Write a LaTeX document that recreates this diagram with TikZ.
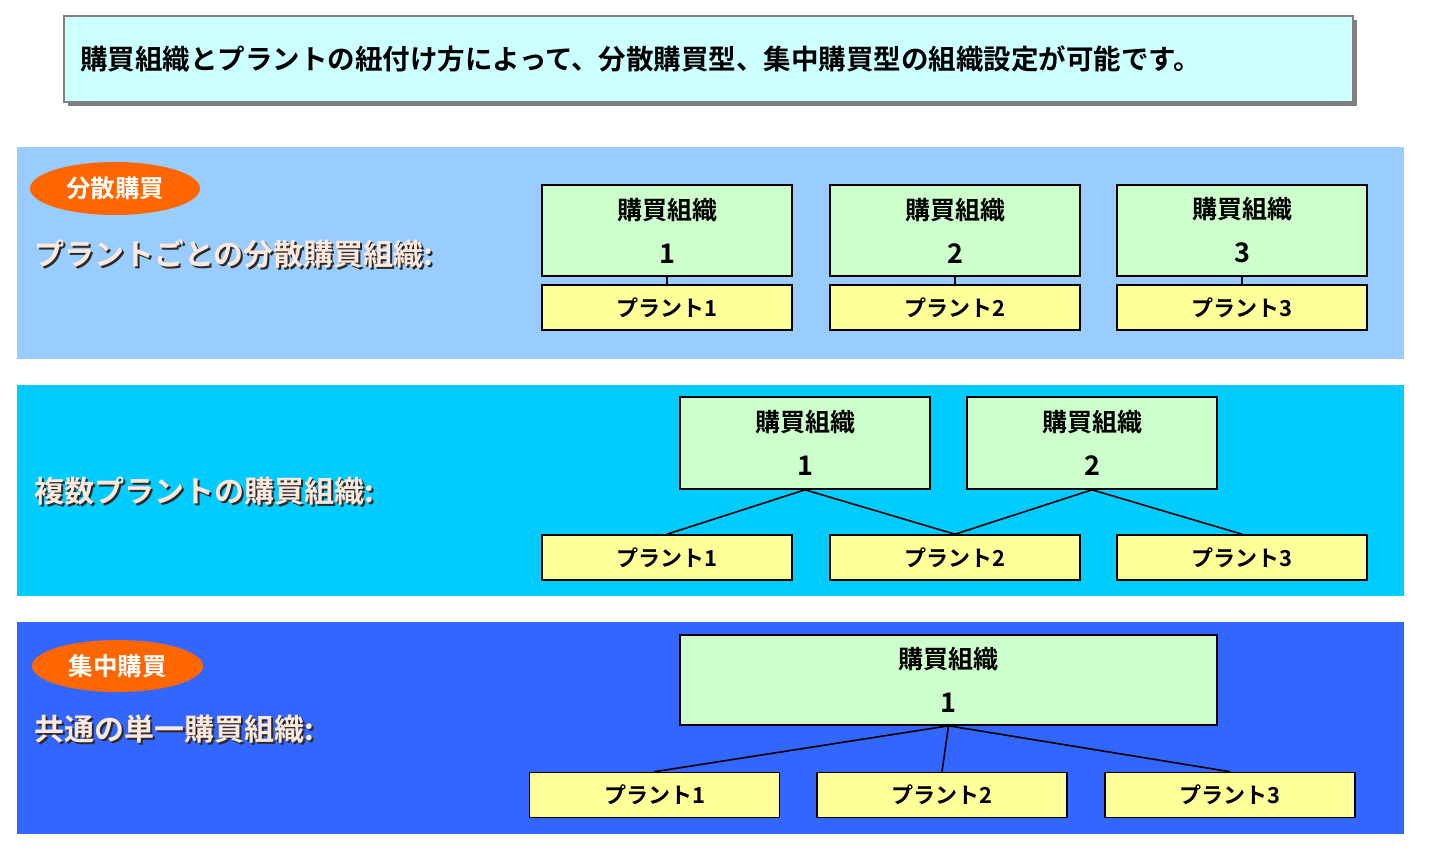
\documentclass[tikz,border=0pt]{standalone}
\usepackage{fontspec}
\setmainfont{Noto Sans CJK JP}[BoldFont={Noto Sans CJK JP Bold}]
\usetikzlibrary{shadows,shapes.geometric}
\definecolor{bannerfill}{HTML}{CCFFFF}
\definecolor{bannergray}{HTML}{808080}
\definecolor{panelA}{HTML}{99CCFF}
\definecolor{panelB}{HTML}{00CCFF}
\definecolor{panelC}{HTML}{3366FF}
\definecolor{orgfill}{HTML}{CCFFCC}
\definecolor{plantfill}{HTML}{FFFF99}
\definecolor{tagorange}{HTML}{FF6600}
\definecolor{labelpink}{HTML}{FFE8DC}
\definecolor{labelshadow}{HTML}{2A2A2A}
\newcommand\shadowed[1]{\makebox[0pt][l]{\hspace{2pt}\raisebox{-2pt}{\color{labelshadow}#1}}#1}
\newcommand\orgno[1]{{\fontsize{27pt}{27pt}\selectfont #1}}

\begin{document}
\begin{tikzpicture}[x=1pt,y=-1pt,
    banner/.style={draw=bannergray,line width=2pt,fill=bannerfill,
      drop shadow={shadow xshift=4pt,shadow yshift=-4pt,fill=bannergray,opacity=1},
      minimum width=1289pt,minimum height=86pt,text width=1257pt,align=left,
      font=\bfseries\fontsize{27.5pt}{30pt}\selectfont},
    org/.style={draw,line width=1.6pt,fill=orgfill,minimum width=250pt,minimum height=91pt,
      align=center,font=\bfseries\fontsize{25pt}{44pt}\selectfont},
    plant/.style={draw,line width=1.6pt,fill=plantfill,minimum width=250pt,minimum height=45pt,
      font=\bfseries\fontsize{22pt}{25pt}\selectfont},
    tag/.style={ellipse,fill=tagorange,text=white,minimum width=170pt,minimum height=53pt,
      font=\bfseries\fontsize{24.5pt}{26pt}\selectfont},
    label/.style={anchor=west,text=labelpink,inner sep=0pt,
      font=\bfseries\fontsize{30pt}{32pt}\selectfont},
    link/.style={line width=1.6pt}]
  \useasboundingbox[fill=white] (0,0) rectangle (1429,854);
  \node[banner] (banner) at (708.5,59) {\raisebox{-3pt}{購買組織とプラントの紐付け方によって、分散購買型、集中購買型の組織設定が可能です。}};

  \fill[panelA] (17,147) rectangle (1404,359);
  \fill[panelB] (17,385) rectangle (1404,596);
  \fill[panelC] (17,622) rectangle (1404,834);

  \node[tag] (tagA) at (115,188.5) {分散購買};
  \node[label] (labelA) at (34,255) {\shadowed{プラントごとの分散購買組織:}};
  \foreach \i/\x in {1/667,2/955,3/1242} {
    \node[org] (orgA\i) at (\x,230.5) {購買組織\\\orgno{\i}};
    \node[plant] (plantA\i) at (\x,307.5) {プラント\i};
    \draw[link] (orgA\i.south) -- (plantA\i.north);
  }

  \node[label] (labelB) at (34,492) {\shadowed{複数プラントの購買組織:}};
  \node[org,minimum height=92pt] (orgB1) at (805,443) {購買組織\\\orgno{1}};
  \node[org,minimum height=92pt] (orgB2) at (1092,443) {購買組織\\\orgno{2}};
  \foreach \i/\x in {1/667,2/955,3/1242}
    \node[plant] (plantB\i) at (\x,557.5) {プラント\i};
  \draw[link] (orgB1.south) -- (plantB1.north);
  \draw[link] (orgB1.south) -- (plantB2.north);
  \draw[link] (orgB2.south) -- (plantB2.north);
  \draw[link] (orgB2.south) -- (plantB3.north);

  \node[tag,minimum width=171pt,minimum height=52pt] (tagC) at (117.5,666) {集中購買};
  \node[label] (labelC) at (34,730) {\shadowed{共通の単一購買組織:}};
  \node[org,minimum width=537pt,minimum height=90pt] (orgC) at (948.5,680) {購買組織\\\orgno{1}};
  \foreach \i/\x in {1/654.5,2/942,3/1230} {
    \node[plant] (plantC\i) at (\x,795) {プラント\i};
    \draw[link] (orgC.south) -- (plantC\i.north);
  }
\end{tikzpicture}
\end{document}
